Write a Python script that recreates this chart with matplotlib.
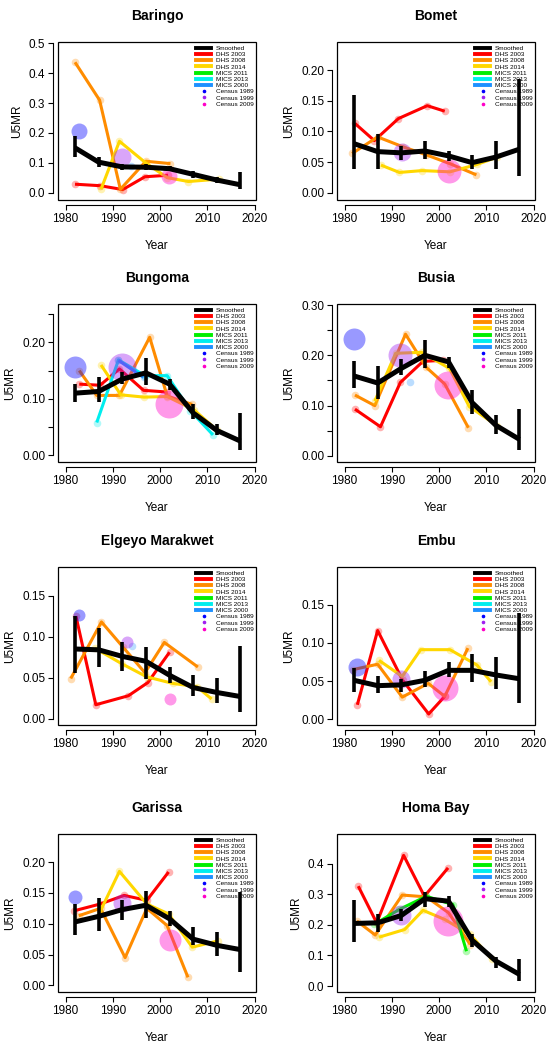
import matplotlib
matplotlib.use("Agg")
import matplotlib.pyplot as plt
from matplotlib.patches import Rectangle
from matplotlib.lines import Line2D

plt.rcParams['font.family'] = ['Liberation Sans', 'DejaVu Sans']

counties = ["Baringo", "Bomet", "Bungoma", "Busia",
            "Elgeyo Marakwet", "Embu", "Garissa", "Homa Bay"]

# smoothed estimates with intervals
smooth_years = [1982, 1987, 1992, 1997, 2002, 2007, 2012, 2017]
smooth = {
    "Baringo": [0.150, 0.102, 0.086, 0.085, 0.080, 0.061, 0.042, 0.026],
    "Bomet": [0.080, 0.067, 0.065, 0.068, 0.060, 0.049, 0.058, 0.071],
    "Bungoma": [0.110, 0.113, 0.135, 0.146, 0.126, 0.075, 0.044, 0.025],
    "Busia": [0.159, 0.145, 0.174, 0.200, 0.187, 0.106, 0.061, 0.033],
    "Elgeyo Marakwet": [0.085, 0.084, 0.076, 0.070, 0.053, 0.038, 0.032, 0.027],
    "Embu": [0.051, 0.044, 0.045, 0.051, 0.064, 0.064, 0.058, 0.053],
    "Garissa": [0.103, 0.112, 0.123, 0.130, 0.108, 0.075, 0.065, 0.058],
    "Homa Bay": [0.205, 0.207, 0.231, 0.286, 0.278, 0.150, 0.082, 0.038],
}
smooth_lo = {
    "Baringo": [0.118, 0.086, 0.077, 0.075, 0.071, 0.050, 0.031, 0.011],
    "Bomet": [0.039, 0.038, 0.053, 0.055, 0.052, 0.039, 0.038, 0.028],
    "Bungoma": [0.094, 0.094, 0.126, 0.124, 0.115, 0.065, 0.035, 0.009],
    "Busia": [0.136, 0.114, 0.161, 0.174, 0.174, 0.084, 0.044, 0.011],
    "Elgeyo Marakwet": [0.056, 0.063, 0.058, 0.049, 0.043, 0.028, 0.019, 0.008],
    "Embu": [0.036, 0.035, 0.036, 0.042, 0.055, 0.049, 0.040, 0.021],
    "Garissa": [0.081, 0.089, 0.106, 0.110, 0.097, 0.065, 0.047, 0.022],
    "Homa Bay": [0.144, 0.178, 0.213, 0.259, 0.259, 0.129, 0.060, 0.016],
}
smooth_hi = {
    "Baringo": [0.190, 0.120, 0.095, 0.096, 0.088, 0.072, 0.053, 0.068],
    "Bomet": [0.159, 0.095, 0.076, 0.085, 0.068, 0.062, 0.084, 0.185],
    "Bungoma": [0.126, 0.139, 0.147, 0.172, 0.135, 0.091, 0.056, 0.074],
    "Busia": [0.188, 0.178, 0.192, 0.231, 0.196, 0.132, 0.082, 0.093],
    "Elgeyo Marakwet": [0.125, 0.110, 0.094, 0.088, 0.063, 0.053, 0.050, 0.089],
    "Embu": [0.067, 0.056, 0.053, 0.063, 0.075, 0.086, 0.082, 0.139],
    "Garissa": [0.132, 0.142, 0.139, 0.153, 0.121, 0.094, 0.086, 0.152],
    "Homa Bay": [0.283, 0.237, 0.251, 0.307, 0.294, 0.169, 0.096, 0.087],
}

# survey direct estimates: (years, values)
dhs2003 = {
    "Baringo": ([1982, 1987.3, 1992.1, 1996.8, 2001.7], [0.028, 0.023, 0.010, 0.053, 0.058]),
    "Bomet": ([1982.2, 1986.3, 1991.4, 1997.5, 2001.2], [0.113, 0.085, 0.121, 0.142, 0.133]),
    "Bungoma": ([1982.9, 1987.3, 1991.4, 1996.5, 2001.5], [0.126, 0.124, 0.153, 0.115, 0.112]),
    "Busia": ([1982.2, 1987.6, 1991.8, 1996.6, 2000.8], [0.093, 0.058, 0.146, 0.188, 0.190]),
    "Elgeyo Marakwet": ([1982.2, 1986.4, 1993.3, 1997.4, 2002], [0.125, 0.017, 0.028, 0.044, 0.081]),
    "Embu": ([1982.7, 1987, 1992.3, 1997.8, 2001.2], [0.019, 0.116, 0.051, 0.007, 0.030]),
    "Garissa": ([1981.8, 1987.3, 1992.4, 1997.2, 2001.8], [0.121, 0.132, 0.146, 0.138, 0.184]),
    "Homa Bay": ([1982.9, 1986.8, 1992.5, 1996.9, 2001.9], [0.327, 0.207, 0.428, 0.294, 0.387]),
}
dhs2008 = {
    "Baringo": ([1982, 1987.2, 1991.6, 1997, 2002.2], [0.437, 0.310, 0.011, 0.105, 0.097]),
    "Bomet": ([1981.6, 1987, 1992.3, 1997.2, 2002.4, 2007.9], [0.064, 0.091, 0.075, 0.062, 0.047, 0.029]),
    "Bungoma": ([1982.9, 1986.6, 1991.4, 1997.8, 2001.5, 2006.8], [0.150, 0.106, 0.106, 0.209, 0.105, 0.090]),
    "Busia": ([1982.2, 1986.4, 1992.9, 1997.3, 2001.2, 2006.2], [0.121, 0.100, 0.242, 0.176, 0.143, 0.056]),
    "Elgeyo Marakwet": ([1981.1, 1987.6, 1992.2, 1996.8, 2000.9, 2008], [0.049, 0.118, 0.087, 0.056, 0.093, 0.063]),
    "Embu": ([1981.8, 1987, 1992.2, 1997.7, 2001.2, 2006.1], [0.065, 0.072, 0.029, 0.047, 0.030, 0.093]),
    "Garissa": ([1982.8, 1987.4, 1992.6, 1997.2, 2001.5, 2005.9], [0.113, 0.125, 0.045, 0.125, 0.097, 0.013]),
    "Homa Bay": ([1982.6, 1986.5, 1992.2, 1997.3, 2002, 2006.6], [0.213, 0.167, 0.298, 0.292, 0.240, 0.136]),
}
dhs2014 = {
    "Baringo": ([1987.5, 1991.4, 1997, 2001.5, 2006, 2012.4], [0.011, 0.172, 0.099, 0.050, 0.037, 0.045]),
    "Bomet": ([1987.7, 1991.6, 1996.4, 2002.3, 2008, 2012.3], [0.045, 0.033, 0.036, 0.034, 0.046, 0.058]),
    "Bungoma": ([1987.5, 1991.7, 1996.6, 2001.5, 2007.1, 2012.1], [0.160, 0.107, 0.103, 0.104, 0.081, 0.044]),
    "Busia": ([1986.4, 1990.8, 1996.3, 2002.2, 2006.4, 2012.3], [0.109, 0.204, 0.206, 0.174, 0.098, 0.060]),
    "Elgeyo Marakwet": ([1986.2, 1991.9, 1997.2, 2002.7, 2007.8, 2010.9], [0.086, 0.067, 0.051, 0.043, 0.039, 0.024]),
    "Embu": ([1987.3, 1992.2, 1996.1, 2002.3, 2008, 2011], [0.077, 0.056, 0.091, 0.091, 0.071, 0.049]),
    "Garissa": ([1987.2, 1991.4, 1997.2, 2001.8, 2006.8, 2012.2], [0.118, 0.185, 0.132, 0.116, 0.062, 0.072]),
    "Homa Bay": ([1987.3, 1992.7, 1996.6, 2001.2, 2006.6, 2011.2], [0.160, 0.185, 0.248, 0.218, 0.169, 0.087]),
}
mics2011 = {
    "Homa Bay": ([1986.3, 1991.6, 1997.3, 2002.9, 2005.8], [0.202, 0.251, 0.294, 0.267, 0.114]),
}
mics2013 = {
    "Bungoma": ([1986.6, 1991.2, 1996.8, 2001.5, 2006.4, 2011.2], [0.058, 0.169, 0.141, 0.141, 0.079, 0.036]),
}
mics2000 = {
    "Baringo": ([1993.9], [0.090]),
    "Bungoma": ([1991.2, 1996.5], [0.168, 0.138]),
    "Busia": ([1993.9], [0.147]),
    "Elgeyo Marakwet": ([1994], [0.089]),
}

# census estimates: (year, value), bubble weight
census1989 = {
    "Baringo": (1982.9, 0.208), "Bungoma": (1982, 0.156), "Busia": (1981.9, 0.232),
    "Elgeyo Marakwet": (1982.9, 0.127), "Embu": (1982.7, 0.068), "Garissa": (1982, 0.144),
}
census1999 = {
    "Baringo": (1991.9, 0.118), "Bomet": (1992.1, 0.066), "Bungoma": (1991.9, 0.157),
    "Busia": (1991.8, 0.200), "Elgeyo Marakwet": (1992.9, 0.093), "Embu": (1992, 0.053),
    "Garissa": (1992, 0.133), "Homa Bay": (1992, 0.234),
}
census2009 = {
    "Baringo": (2001.8, 0.056), "Bomet": (2002.2, 0.036), "Bungoma": (2001.8, 0.091),
    "Busia": (2001.8, 0.141), "Elgeyo Marakwet": (2002, 0.024), "Embu": (2001.2, 0.041),
    "Garissa": (2002, 0.073), "Homa Bay": (2001.9, 0.213),
}
census_weight = {
    "1989": {"Baringo": 8, "Bungoma": 11, "Busia": 11, "Elgeyo Marakwet": 6, "Embu": 9, "Garissa": 7},
    "1999": {"Baringo": 9, "Bomet": 9, "Bungoma": 14, "Busia": 12, "Elgeyo Marakwet": 6,
             "Embu": 9, "Garissa": 9, "Homa Bay": 10},
    "2009": {"Baringo": 8, "Bomet": 12, "Bungoma": 14, "Busia": 14, "Elgeyo Marakwet": 6,
             "Embu": 13, "Garissa": 11, "Homa Bay": 15},
}

y_limits = {
    "Baringo": (-0.025, 0.505), "Bomet": (-0.012, 0.246), "Bungoma": (-0.012, 0.268),
    "Busia": (-0.012, 0.302), "Elgeyo Marakwet": (-0.0077, 0.185), "Embu": (-0.0074, 0.199),
    "Garissa": (-0.0108, 0.2457), "Homa Bay": (-0.0196, 0.498),
}
y_ticks = {
    "Baringo": [0.0, 0.1, 0.2, 0.3, 0.4, 0.5],
    "Bomet": [0.0, 0.05, 0.10, 0.15, 0.20],
    "Bungoma": [0.0, 0.05, 0.10, 0.15, 0.20, 0.25],
    "Busia": [0.0, 0.05, 0.10, 0.15, 0.20, 0.25, 0.30],
    "Elgeyo Marakwet": [0.0, 0.05, 0.10, 0.15],
    "Embu": [0.0, 0.05, 0.10, 0.15],
    "Garissa": [0.0, 0.05, 0.10, 0.15, 0.20],
    "Homa Bay": [0.0, 0.1, 0.2, 0.3, 0.4],
}
y_ticklabels = {
    "Baringo": ["0.0", "0.1", "0.2", "0.3", "0.4", "0.5"],
    "Bomet": ["0.00", "0.05", "0.10", "0.15", "0.20"],
    "Bungoma": ["0.00", "", "0.10", "", "0.20", ""],
    "Busia": ["0.00", "", "0.10", "", "0.20", "", "0.30"],
    "Elgeyo Marakwet": ["0.00", "0.05", "0.10", "0.15"],
    "Embu": ["0.00", "0.05", "0.10", "0.15"],
    "Garissa": ["0.00", "0.05", "0.10", "0.15", "0.20"],
    "Homa Bay": ["0.0", "0.1", "0.2", "0.3", "0.4"],
}
x_ticks = [1980, 1990, 2000, 2010, 2020]

survey_colors = {"DHS 2003": "#FF0000", "DHS 2008": "#FF8C00", "DHS 2014": "#FFD700",
                 "MICS 2011": "#00EE00", "MICS 2013": "#00EEEE", "MICS 2000": "#1E90FF"}
census_colors = {"1989": "#0000FF", "1999": "#A020F0", "2009": "#FF00C8"}

surveys = [("DHS 2003", dhs2003), ("DHS 2008", dhs2008), ("DHS 2014", dhs2014),
           ("MICS 2011", mics2011), ("MICS 2013", mics2013), ("MICS 2000", mics2000)]
censuses = [("1989", census1989), ("1999", census1999), ("2009", census2009)]

W, H = 551, 1050
fig = plt.figure(figsize=(W / 100, H / 100), dpi=100)
col_left = [58, 337]
row_top = [42, 304, 567, 834]
aw, ah = 198, 158
off = 3.6  # axis offset in points (R style)

for i, name in enumerate(counties):
    r, c = divmod(i, 2)
    ax = fig.add_axes([col_left[c] / W, 1 - (row_top[r] + ah) / H, aw / W, ah / H])

    for lab, d in surveys:
        if name in d:
            xs, ys = d[name]
            ax.plot(xs, ys, color=survey_colors[lab], lw=2.2, zorder=2, solid_capstyle='butt')
            ax.scatter(xs, ys, s=30, color=survey_colors[lab], alpha=0.3, lw=0, zorder=2)

    for yr, d in censuses:
        if name in d:
            x, y = d[name]
            rad = census_weight[yr][name]
            ax.scatter([x], [y], s=2.07 * rad ** 2, color=census_colors[yr],
                       alpha=0.4, lw=0, zorder=3)

    ax.vlines(smooth_years, smooth_lo[name], smooth_hi[name], color="black", lw=2.6, zorder=4)
    ax.plot(smooth_years, smooth[name], color="black", lw=3.6, zorder=5, solid_capstyle='butt')

    ax.set_xlim(1978.4, 2020.3)
    ax.set_ylim(*y_limits[name])
    ax.set_xticks(x_ticks)
    ax.set_yticks(y_ticks[name])
    ax.set_yticklabels(y_ticklabels[name], rotation=90, va="center")

    for s in ("top", "right"):
        ax.spines[s].set_visible(False)
    ax.spines["left"].set_position(("outward", off))
    ax.spines["bottom"].set_position(("outward", off))
    ax.spines["left"].set_bounds(y_ticks[name][0], y_ticks[name][-1])
    ax.spines["bottom"].set_bounds(x_ticks[0], x_ticks[-1])
    for s in ("left", "bottom"):
        ax.spines[s].set_linewidth(0.8)
    ax.add_patch(Rectangle((0, 0), 1, 1, transform=ax.transAxes, fill=False,
                           lw=0.9, ec="black", clip_on=False, zorder=6))
    ax.tick_params(direction="out", length=3.6, width=0.8, labelsize=8.5, pad=2)

    ax.set_title(name, fontweight="bold", fontsize=10, pad=16)
    ax.set_xlabel("Year", fontsize=8.5, labelpad=11)
    ax.set_ylabel("U5MR", fontsize=8.5, labelpad=4)

    handles = [Line2D([], [], color="black", lw=2.8)]
    labels = ["Smoothed"]
    for lab, _ in surveys:
        handles.append(Line2D([], [], color=survey_colors[lab], lw=2.8))
        labels.append(lab)
    for yr, _ in censuses:
        handles.append(Line2D([], [], color=census_colors[yr], lw=0, marker="o", markersize=1.6))
        labels.append("Census " + yr)
    ax.legend(handles, labels, loc="upper right", bbox_to_anchor=(1.0, 0.995),
              frameon=False, fontsize=4.6, labelspacing=0.12, handlelength=2.4,
              handletextpad=0.7, borderpad=0.2, borderaxespad=0.2)

fig.savefig("out.png", dpi=100)
